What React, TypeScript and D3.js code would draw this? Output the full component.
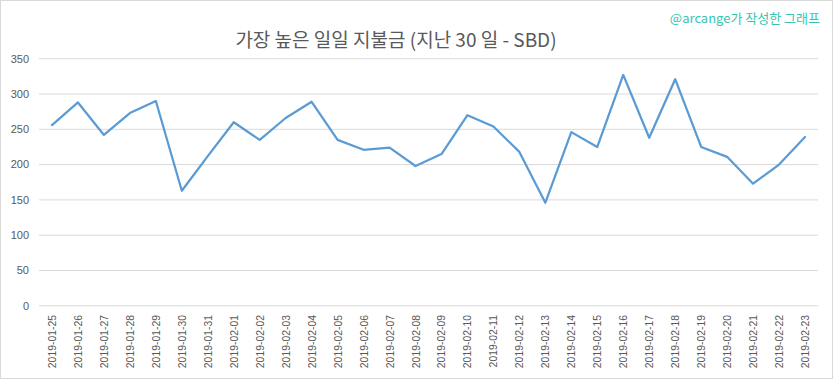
import React from "react";
import * as d3 from "d3";

const dates = [
  "2019-01-25","2019-01-26","2019-01-27","2019-01-28","2019-01-29","2019-01-30","2019-01-31",
  "2019-02-01","2019-02-02","2019-02-03","2019-02-04","2019-02-05","2019-02-06","2019-02-07",
  "2019-02-08","2019-02-09","2019-02-10","2019-02-11","2019-02-12","2019-02-13","2019-02-14",
  "2019-02-15","2019-02-16","2019-02-17","2019-02-18","2019-02-19","2019-02-20","2019-02-21",
  "2019-02-22","2019-02-23",
];
const payouts = [
  256, 288, 242, 273, 290, 163, 212, 260, 235, 266, 289, 235, 221, 224, 198,
  215, 270, 254, 218, 146, 246, 225, 327, 238, 321, 225, 211, 173, 200, 239,
];
const yTicks = [0, 50, 100, 150, 200, 250, 300, 350];
const title = "가장 높은 일일 지불금 (지난 30 일 - SBD)";
const watermark = "@arcange가 작성한 그래프";

export default function App() {
  const W = 833, H = 379;
  const left = 39, right = 818, top = 58.7, bottom = 305.8;
  const x = d3.scaleBand<string>().domain(dates).range([left, right]);
  const y = d3.scaleLinear().domain([0, 350]).range([bottom, top]);
  const line = d3.line<number>()
    .x((_, i) => (x(dates[i]) as number) + x.bandwidth() / 2)
    .y((d) => y(d));
  const font = "'Liberation Sans', Arial, sans-serif";
  return (
    <svg width={W} height={H} style={{ position: "absolute", left: 0, top: 0, background: "#fff" }}>
      <rect x={0.5} y={0.5} width={W - 1} height={H - 1} fill="#fff" stroke="#d9d9d9" />
      {yTicks.map((t) => (
        <g key={t}>
          <line x1={left} x2={right} y1={y(t)} y2={y(t)} stroke="#d9d9d9" strokeWidth={1} />
          <text x={29} y={y(t)} dy="0.35em" textAnchor="end" fontSize={11} fill="#595959" fontFamily={font}>{t}</text>
        </g>
      ))}
      {dates.map((d) => (
        <text key={d} transform={`translate(${(x(d) as number) + x.bandwidth() / 2 + 4},${315}) rotate(-90)`}
          textAnchor="end" fontSize={10.4} fill="#595959" fontFamily={font}>{d}</text>
      ))}
      <path d={line(payouts) || ""} fill="none" stroke="#5b9bd5" strokeWidth={2.25} strokeLinejoin="round" strokeLinecap="round" />
      <text x={396} y={47} textAnchor="middle" fontSize={19} fill="#595959" fontFamily="'Noto Sans CJK KR', sans-serif">{title}</text>
      <text x={820} y={23} textAnchor="end" fontSize={13} fill="#36c6b0" fontFamily="'Noto Sans CJK KR', sans-serif">{watermark}</text>
    </svg>
  );
}
